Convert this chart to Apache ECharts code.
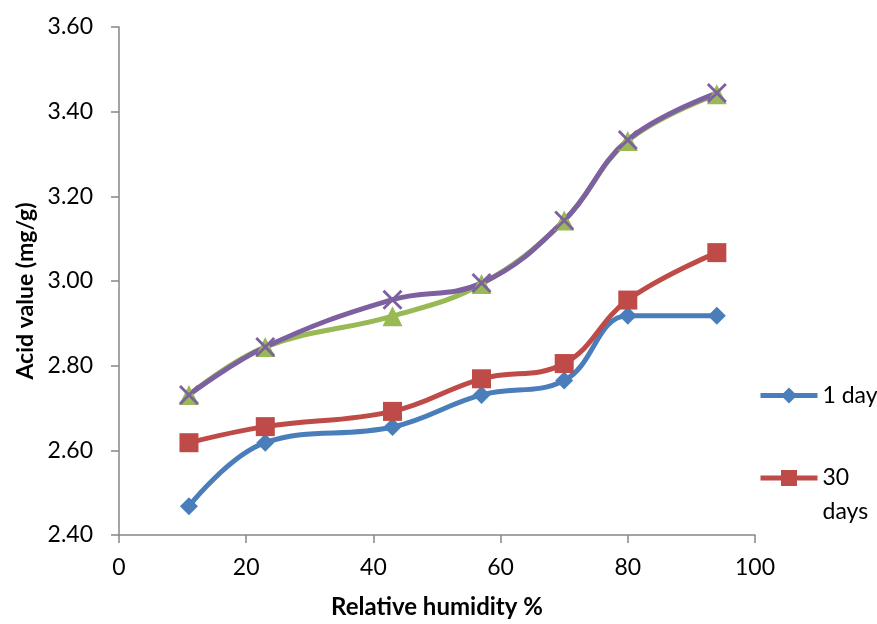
<!DOCTYPE html>
<html>
<head>
<meta charset="utf-8">
<script src="https://cdn.jsdelivr.net/npm/echarts@6/dist/echarts.min.js"></script>
<style>
html, body { margin: 0; padding: 0; background: #fff; }
#main { width: 877px; height: 624px; }
</style>
</head>
<body>
<div id="main"></div>
<script>
// relative humidity (%)
var humidity = [11, 23, 43, 57, 70, 80, 94];
// acid value (mg/g)
var day1 = [2.468, 2.618, 2.655, 2.731, 2.765, 2.918, 2.918];
var day30 = [2.618, 2.656, 2.692, 2.769, 2.805, 2.955, 3.067];
var day60 = [2.731, 2.844, 2.917, 2.993, 3.143, 3.331, 3.441];
var day90 = [2.731, 2.844, 2.956, 2.995, 3.143, 3.333, 3.444];
var yTicks = ['2.40', '2.60', '2.80', '3.00', '3.20', '3.40', '3.60'];

var font = 'Lato';
var axisColor = '#868686';

function pairs(vals) {
    return vals.map(function (v, i) { return [humidity[i], v]; });
}

var crossPath = 'path://M0,1 L1,0 L10,9 L9,10 Z M9,0 L10,1 L1,10 L0,9 Z';

var myChart = echarts.init(document.getElementById('main'));
var option = {
    backgroundColor: '#fff',
    animation: false,
    grid: { left: 119, right: 122, top: 27, bottom: 87 },
    legend: [{
        data: ['1 day'],
        left: 758, top: 384, padding: 0,
        itemWidth: 57, itemHeight: 20, itemGap: 4,
        lineStyle: { width: 5 },
        textStyle: { fontFamily: font, fontSize: 23, color: '#000' }
    }, {
        data: ['30 days'],
        left: 758, top: 427, padding: 0,
        itemWidth: 57, itemHeight: 20, itemGap: 4,
        lineStyle: { width: 5 },
        formatter: function () { return ' \n30\ndays'; },
        textStyle: { fontFamily: font, fontSize: 23, color: '#000', lineHeight: 34 }
    }],
    xAxis: {
        type: 'value', min: 0, max: 100, interval: 20,
        name: 'Relative humidity %', nameLocation: 'middle', nameGap: 60,
        nameTextStyle: { fontFamily: font, fontSize: 24, fontWeight: 'bold', color: '#000' },
        axisLine: { show: true, lineStyle: { color: axisColor, width: 1.5 } },
        axisTick: { show: true, length: 8, lineStyle: { color: axisColor, width: 1.5 } },
        axisLabel: { margin: 21, fontFamily: font, fontSize: 23, color: '#000' },
        splitLine: { show: false }
    },
    yAxis: {
        type: 'value', min: 2.4, max: 3.6, interval: 0.2,
        name: 'Acid value (mg/g)', nameLocation: 'middle', nameGap: 79,
        nameTextStyle: { fontFamily: font, fontSize: 23, fontWeight: 'bold', color: '#000', padding: [0, 20, 0, 0] },
        axisLine: { show: true, lineStyle: { color: axisColor, width: 1.5 } },
        axisTick: { show: true, length: 8, lineStyle: { color: axisColor, width: 1.5 } },
        axisLabel: {
            margin: 26, fontFamily: font, fontSize: 23, color: '#000',
            formatter: function (v) {
                var i = Math.round((v - 2.4) / 0.2);
                return yTicks[i];
            }
        },
        splitLine: { show: false }
    },
    series: [{
        name: '1 day', type: 'line', smooth: 0.4,
        data: pairs(day1),
        symbol: 'diamond', symbolSize: 18,
        lineStyle: { color: '#4A7EBB', width: 5 },
        itemStyle: { color: '#4A7EBB' }
    }, {
        name: '30 days', type: 'line', smooth: 0.4,
        data: pairs(day30),
        symbol: 'rect', symbolSize: 19,
        lineStyle: { color: '#BE4B48', width: 5 },
        itemStyle: { color: '#BE4B48' }
    }, {
        name: '60 days', type: 'line', smooth: 0.4,
        data: pairs(day60),
        symbol: 'triangle', symbolSize: 20,
        lineStyle: { color: '#98B954', width: 5 },
        itemStyle: { color: '#98B954' }
    }, {
        name: '90 days', type: 'line', smooth: 0.4,
        data: pairs(day90),
        symbol: crossPath, symbolSize: 20,
        lineStyle: { color: '#7D60A0', width: 5 },
        itemStyle: { color: '#7D60A0' }
    }]
};
myChart.setOption(option);
</script>
</body>
</html>
